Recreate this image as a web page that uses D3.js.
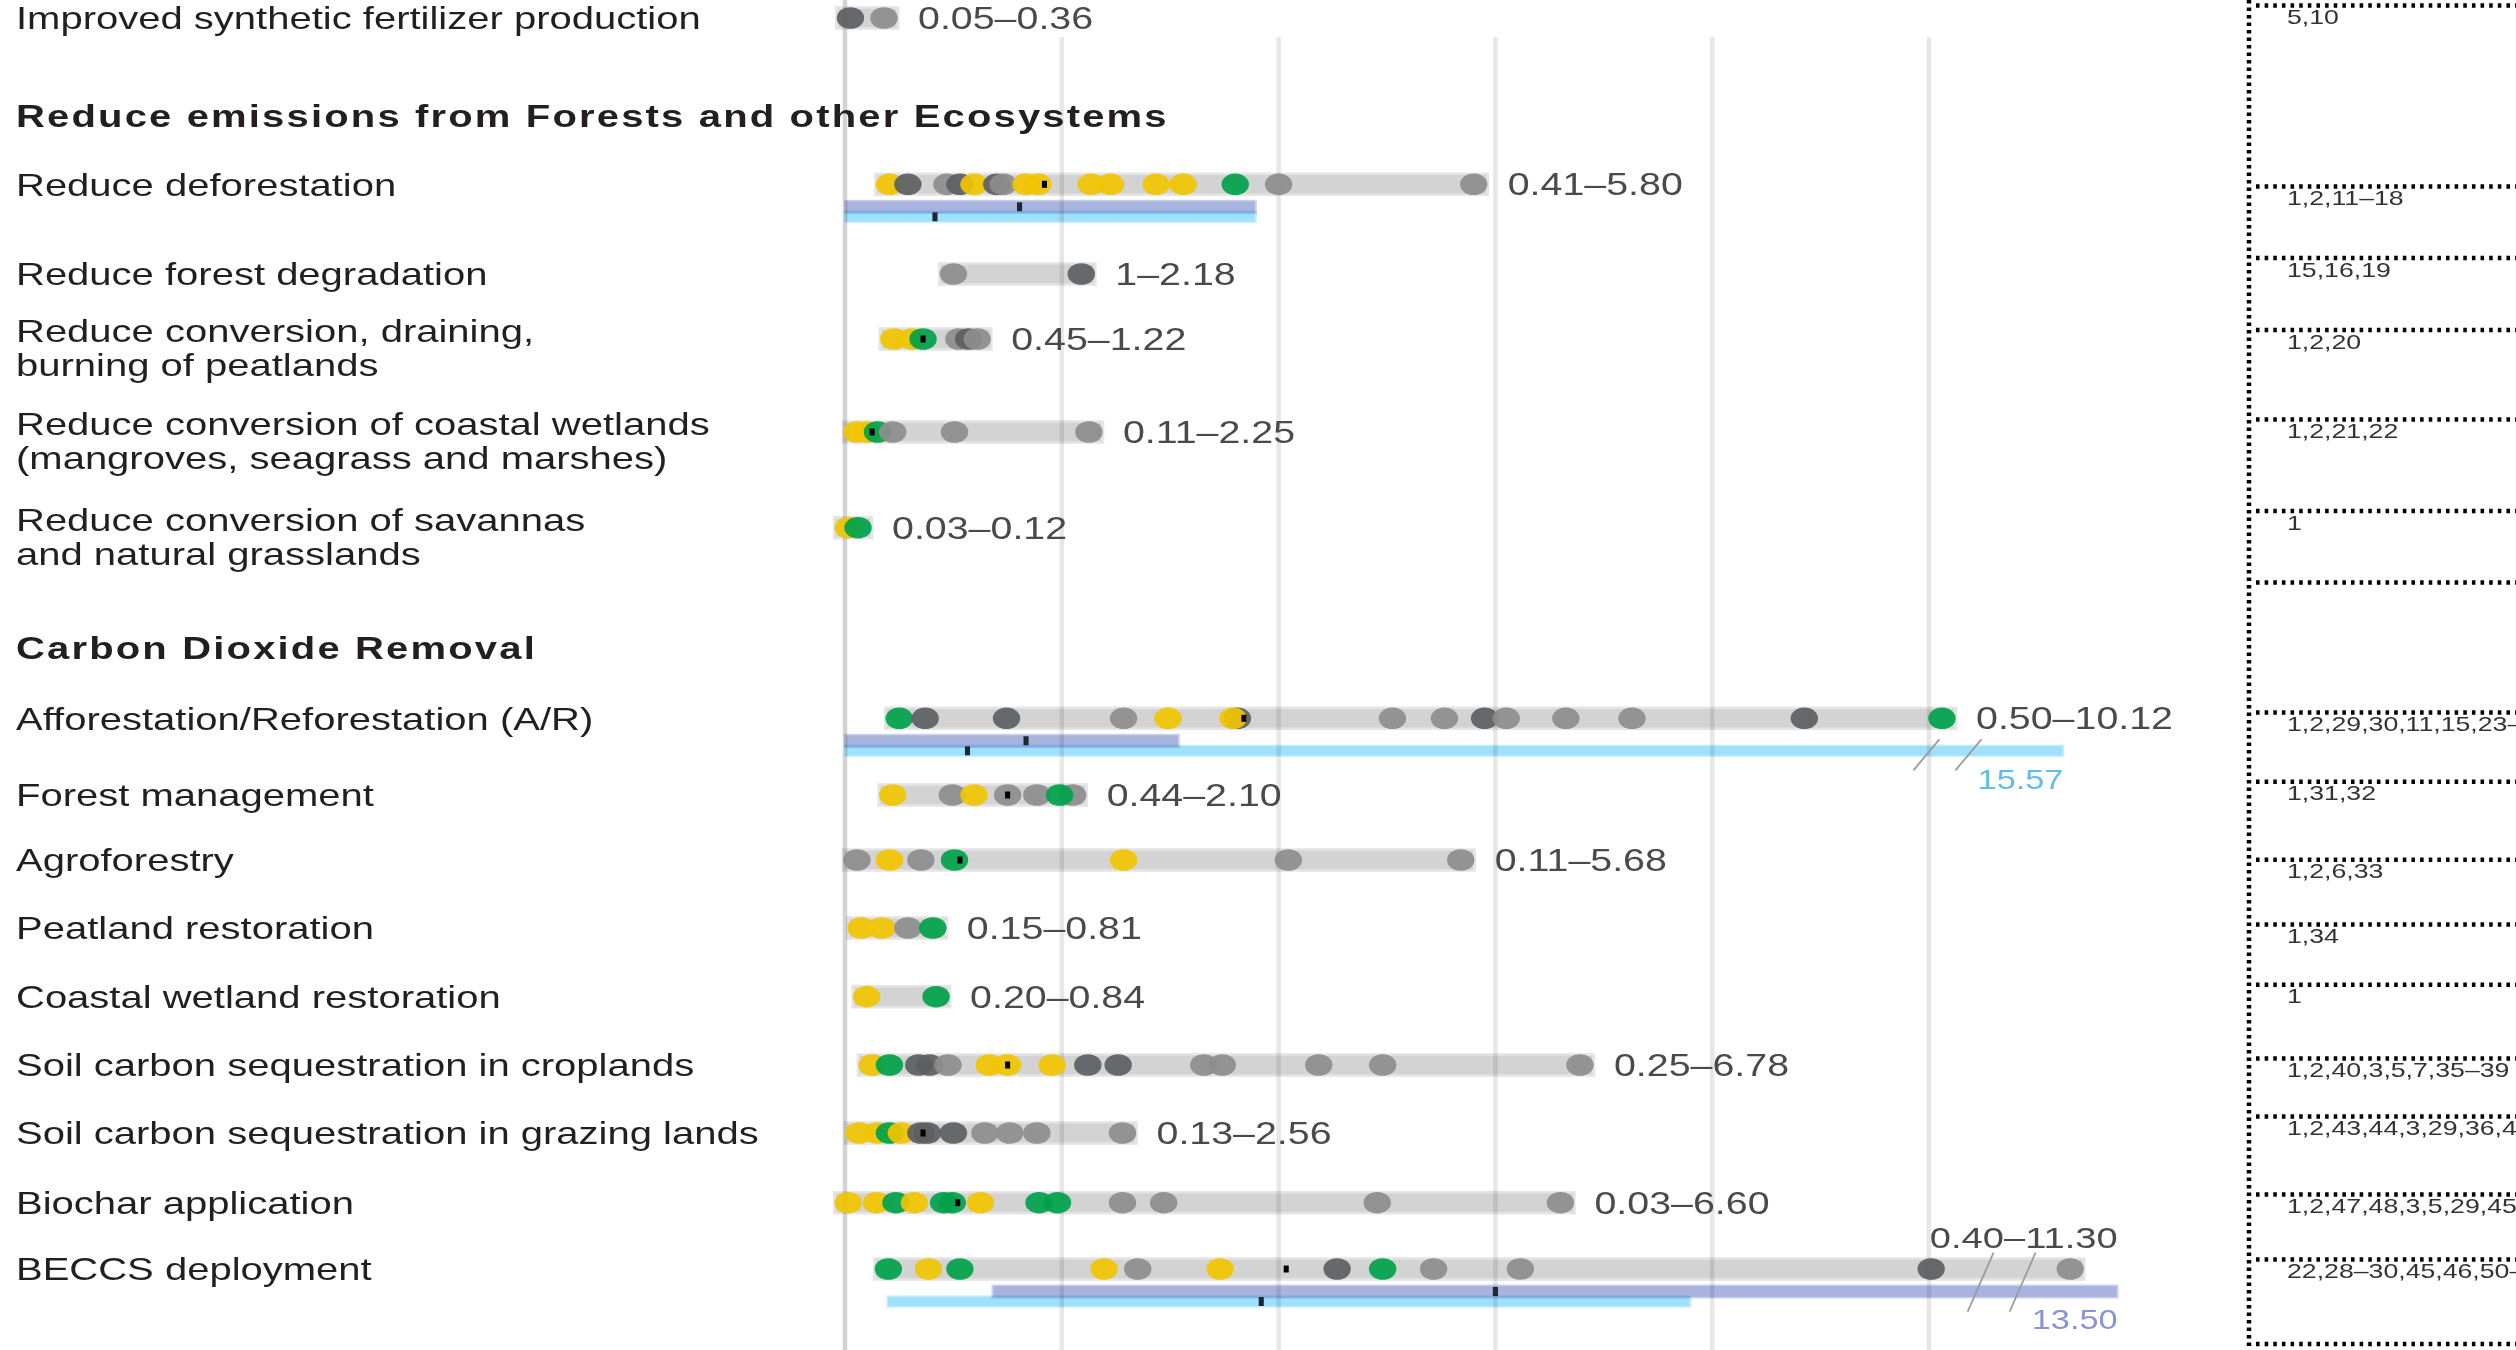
<!DOCTYPE html>
<html lang="en">
<head>
<meta charset="UTF-8" />
<title>AFOLU mitigation measures</title>
<script src="https://cdn.jsdelivr.net/npm/d3@7"></script>
<style>
  html, body { margin: 0; padding: 0; background: #fff; overflow: hidden; }
  svg { display: block; }
</style>
</head>
<body>
<div id="svgCanvas"></div>
<script>
// ---------- data ----------
const rowNames = [
  ["Improved synthetic fertilizer production"],
  ["Reduce deforestation"],
  ["Reduce forest degradation"],
  ["Reduce conversion, draining,", "burning of peatlands"],
  ["Reduce conversion of coastal wetlands", "(mangroves, seagrass and marshes)"],
  ["Reduce conversion of savannas", "and natural grasslands"],
  ["Afforestation/Reforestation (A/R)"],
  ["Forest management"],
  ["Agroforestry"],
  ["Peatland restoration"],
  ["Coastal wetland restoration"],
  ["Soil carbon sequestration in croplands"],
  ["Soil carbon sequestration in grazing lands"],
  ["Biochar application"],
  ["BECCS deployment"]
];
const headers = ["Reduce emissions from Forests and other Ecosystems", "Carbon Dioxide Removal"];

const rangeLabels = ["0.05–0.36", "0.41–5.80", "1–2.18", "0.45–1.22", "0.11–2.25", "0.03–0.12",
  "0.50–10.12", "0.44–2.10", "0.11–5.68", "0.15–0.81", "0.20–0.84", "0.25–6.78", "0.13–2.56",
  "0.03–6.60", "0.40–11.30"];

const refs = ["5,10", "1,2,11–18", "15,16,19", "1,2,20", "1,2,21,22", "1",
  "1,2,29,30,11,15,23–28", "1,31,32", "1,2,6,33", "1,34", "1",
  "1,2,40,3,5,7,35–39", "1,2,43,44,3,29,36,41,42", "1,2,47,48,3,5,29,45,46",
  "22,28–30,45,46,50–52"];

// study estimates per measure: [value, kind]  y=yellow g=green m=grey d=dark grey
const dots = [
  [[0.05,"d"],[0.36,"m"]],
  [[0.41,"y"],[0.58,"d"],[0.94,"m"],[1.06,"d"],[1.19,"y"],[1.40,"d"],[1.46,"m"],[1.67,"y"],[1.78,"y"],
   [2.27,"y"],[2.45,"y"],[2.87,"y"],[3.12,"y"],[3.60,"g"],[4.00,"m"],[5.80,"m"]],
  [[1.00,"m"],[2.18,"d"]],
  [[0.45,"y"],[0.62,"y"],[0.72,"g"],[1.05,"m"],[1.14,"d"],[1.22,"m"]],
  [[0.11,"y"],[0.20,"y"],[0.30,"g"],[0.44,"m"],[1.01,"m"],[2.25,"m"]],
  [[0.03,"y"],[0.12,"g"]],
  [[0.50,"g"],[0.74,"d"],[1.49,"d"],[2.57,"m"],[2.98,"y"],[3.62,"d"],[3.58,"y"],[5.05,"m"],[5.53,"m"],
   [5.90,"d"],[6.10,"m"],[6.65,"m"],[7.26,"m"],[8.85,"d"],[10.12,"g"]],
  [[0.44,"y"],[0.99,"m"],[1.19,"y"],[1.50,"m"],[1.77,"m"],[2.10,"m"],[1.98,"g"]],
  [[0.11,"m"],[0.41,"y"],[0.70,"m"],[1.01,"g"],[2.57,"y"],[4.09,"m"],[5.68,"m"]],
  [[0.15,"y"],[0.34,"y"],[0.58,"m"],[0.81,"g"]],
  [[0.20,"y"],[0.84,"g"]],
  [[0.25,"y"],[0.41,"g"],[0.68,"d"],[0.78,"d"],[0.95,"m"],[1.33,"y"],[1.50,"y"],[1.91,"y"],[2.24,"d"],
   [2.52,"d"],[3.31,"m"],[3.48,"m"],[4.37,"m"],[4.96,"m"],[6.78,"m"]],
  [[0.13,"y"],[0.30,"y"],[0.41,"g"],[0.52,"y"],[0.70,"d"],[0.76,"d"],[1.00,"d"],[1.29,"m"],[1.52,"m"],
   [1.77,"m"],[2.56,"m"]],
  [[0.03,"y"],[0.29,"y"],[0.47,"g"],[0.64,"y"],[0.91,"g"],[0.99,"g"],[1.25,"y"],[1.79,"g"],[1.96,"g"],
   [2.56,"m"],[2.94,"m"],[4.91,"m"],[6.60,"m"]],
  [[0.40,"g"],[0.77,"y"],[1.06,"g"],[2.39,"y"],[2.70,"m"],[3.46,"y"],[4.54,"d"],[4.96,"g"],[5.43,"m"],
   [6.23,"m"],[10.02,"d"],[11.30,"m"]]
];
const medians = [null, 1.84, null, 0.72, 0.25, null, 3.68, 1.50, 1.06, null, null, 1.50, 0.72, 1.04, 4.07];

// ranges from sectoral studies (purple) and IAMs (light blue): [low, high, median]
const sectoral = [null, [0, 3.79, 1.61], null, null, null, null, [0, 3.08, 1.67], null, null, null, null,
  null, null, null, [1.36, 13.50, 6.00]];
const iam = [null, [0, 3.79, 0.83], null, null, null, null, [0, 15.57, 1.13], null, null, null, null,
  null, null, null, [0.39, 7.80, 3.84]];
// where the axis is broken for values running off the scale
const axisBreak = [null, null, null, null, null, null, 10.17, null, null, null, null, null, null, null, 10.67];

const gridValues = [0, 2, 4, 6, 8, 10];

// ---------- layout (full-size pixels) ----------
const W = 2516, H = 1350;
const S = 1.27;                       // the artwork is stretched horizontally
const fx = px => px / S;
const rowY = [18, 184.3, 274, 339, 432, 527.7, 718.3, 795, 860, 928, 996.7, 1065, 1133, 1202.7, 1269];
const headerY = [115.5, 648];
const refLineY = [5.4, 186.6, 258, 330, 419.6, 511, 582.6, 712.5, 781.7, 859.8, 924.6, 984.8,
  1058.5, 1116.5, 1194.6, 1259.4, 1344];
const refTextLine = [0, 1, 2, 3, 4, 5, 7, 8, 9, 10, 11, 12, 13, 14, 15];
const R = 10.8;
const colors = { y: "#f1c400", g: "#00a14b", m: "#8d8d8d", d: "#5c5f62" };

const canvas = d3.select("#svgCanvas").append("svg")
  .attr("width", W).attr("height", H)
  .attr("viewBox", `0 0 ${W / S} ${H}`)
  .attr("preserveAspectRatio", "none")
  .style("font-family", "'Liberation Sans', Arial, Helvetica, sans-serif");

const x = d3.scaleLinear().domain([0, 10]).range([fx(845), fx(1929)]);

function rowMax(i) {
  const v = dots[i].map(d => d[0]);
  if (sectoral[i]) v.push(sectoral[i][1]);
  if (iam[i]) v.push(iam[i][1]);
  return d3.max(v);
}
// values beyond the break are squeezed into a short tail
function xPos(v, i) {
  const b = axisBreak[i];
  if (b == null || v <= b) return x(v);
  const tail = d3.scalePow().exponent(0.35).domain([0, rowMax(i) - b]).range([0, fx(116)]);
  return x(b) + tail(v - b);
}

// gridlines
canvas.append("g").selectAll("line").data(gridValues).join("line")
  .attr("x1", d => x(d)).attr("x2", d => x(d))
  .attr("y1", d => d === 0 ? 0 : 37).attr("y2", H)
  .attr("stroke", d => d === 0 ? "#d3d3d3" : "#e7e7e7")
  .attr("stroke-width", fx(4.5));

// rows
rowNames.forEach((name, i) => {
  const cy = rowY[i];
  const g = canvas.append("g");
  const [lo, hi] = d3.extent(dots[i], d => d[0]);
  const overflow = axisBreak[i] != null && hi > axisBreak[i];

  // range bar
  g.append("rect")
    .attr("x", xPos(lo, i) - R)
    .attr("width", xPos(hi, i) - xPos(lo, i) + 2 * R)
    .attr("y", cy - 10.5).attr("height", 21)
    .attr("fill", "#d3d3d3").attr("stroke", "#e4e4e4").attr("stroke-width", 2.5)
    .style("mix-blend-mode", "multiply");

  // blue ranges
  const bars = [];
  if (iam[i]) bars.push({ r: iam[i], cy: cy + 32.5, h: 11, fill: "#9fe0fb", edge: "#cdeffd", txt: "#62bde9" });
  if (sectoral[i]) bars.push({ r: sectoral[i], cy: cy + 22.5, h: 12.5, fill: "#a9b4de", edge: "#ccd2ee", txt: "#8a92d6" });
  bars.forEach(b => {
    g.append("rect")
      .attr("x", xPos(b.r[0], i)).attr("width", xPos(b.r[1], i) - xPos(b.r[0], i))
      .attr("y", b.cy - b.h / 2).attr("height", b.h)
      .attr("fill", b.fill).attr("stroke", b.edge).attr("stroke-width", 1.5)
      .style("mix-blend-mode", "multiply");
  });
  bars.forEach(b => {
    g.append("rect")
      .attr("x", xPos(b.r[2], i) - 2).attr("width", 4)
      .attr("y", b.cy - 4.5).attr("height", 9)
      .attr("fill", "#1e2734");
    if (axisBreak[i] != null && b.r[1] > axisBreak[i]) {
      g.append("text")
        .attr("x", xPos(b.r[1], i)).attr("y", b.cy + 28)
        .attr("dy", "0.36em").attr("text-anchor", "end")
        .attr("font-size", 27).attr("fill", b.txt)
        .text(d3.format(".2f")(b.r[1]));
    }
  });

  // dots
  g.selectAll("circle").data(dots[i]).join("circle")
    .attr("cx", d => xPos(d[0], i)).attr("cy", cy).attr("r", R)
    .attr("fill", d => colors[d[1]]).attr("fill-opacity", 0.92);

  if (medians[i] != null) {
    g.append("rect")
      .attr("x", x(medians[i]) - 2).attr("width", 4)
      .attr("y", cy - 3.5).attr("height", 7)
      .attr("fill", "#000");
  }

  // axis break marks
  if (axisBreak[i] != null) {
    const over = [];
    if (overflow) over.push([cy - 10.5, cy + 10.5]);
    bars.forEach(b => { if (b.r[1] > axisBreak[i]) over.push([b.cy - b.h / 2, b.cy + b.h / 2]); });
    const top = d3.min(over, d => d[0]) - 6;
    const bot = d3.max(over, d => d[1]) + 14;
    const cx = x(axisBreak[i]);
    [-1, 1].forEach(s => {
      const c = cx + s * fx(21);
      g.append("line")
        .attr("x1", c + fx(13)).attr("y1", top)
        .attr("x2", c - fx(13)).attr("y2", bot)
        .attr("stroke", "#9c9c9c").attr("stroke-width", 1.8)
        .attr("vector-effect", "non-scaling-stroke");
    });
  }

  // value range label
  if (overflow) {
    g.append("text")
      .attr("x", xPos(rowMax(i), i)).attr("y", cy - 32).attr("dy", "0.36em")
      .attr("text-anchor", "end").attr("font-size", 30).attr("fill", "#4a4a4a")
      .text(rangeLabels[i]);
  } else {
    g.append("text")
      .attr("x", x(hi) + fx(34)).attr("y", cy).attr("dy", "0.36em")
      .attr("font-size", 31).attr("fill", "#4a4a4a")
      .text(rangeLabels[i]);
  }

  // measure label
  const lineTop = name.length > 1 ? cy - 8 : cy;
  name.forEach((t, k) => {
    canvas.append("text")
      .attr("x", fx(16)).attr("y", lineTop + k * 33.7).attr("dy", "0.36em")
      .attr("font-size", 31.5).attr("fill", "#231f20")
      .text(t);
  });
});

// section headers
headers.forEach((t, k) => {
  canvas.append("text")
    .attr("x", fx(16)).attr("y", headerY[k]).attr("dy", "0.36em")
    .attr("font-size", 31.5).attr("font-weight", "bold").attr("letter-spacing", 1.7)
    .attr("fill", "#231f20")
    .text(t);
});

// references column
const refX = fx(2249);
canvas.append("line")
  .attr("x1", refX).attr("x2", refX).attr("y1", 0).attr("y2", H)
  .attr("stroke", "#000").attr("stroke-width", fx(4.5))
  .attr("stroke-dasharray", "3.5 4");
canvas.append("g").selectAll("line").data(refLineY).join("line")
  .attr("x1", fx(2256)).attr("x2", W / S)
  .attr("y1", d => d).attr("y2", d => d)
  .attr("stroke", "#000").attr("stroke-width", 4.5)
  .attr("stroke-dasharray", "2.8 4");
canvas.append("g").selectAll("text").data(refs).join("text")
  .attr("x", fx(2287)).attr("y", (d, i) => refLineY[refTextLine[i]] + 11).attr("dy", "0.36em")
  .attr("font-size", 21).attr("fill", "#333")
  .text(d => d);
</script>
</body>
</html>
